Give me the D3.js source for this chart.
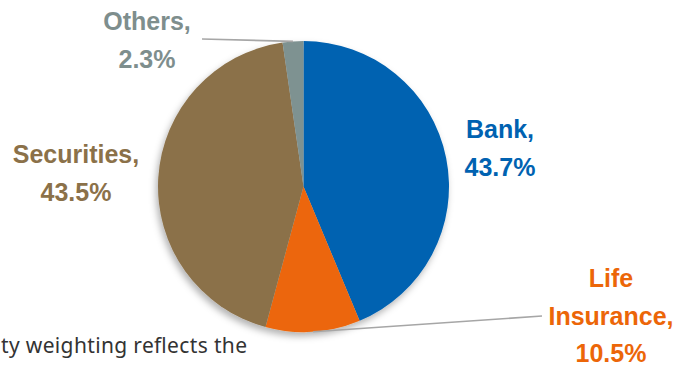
<!DOCTYPE html>
<html>
<head>
<meta charset="utf-8">
<script src="https://cdn.jsdelivr.net/npm/d3@7"></script>
<style>
  body { margin: 0; background: #fff; }
  svg { display: block; }
  .label { font-family: "Liberation Sans", Arial, sans-serif; font-weight: bold; font-size: 25px; }
  .note { font-family: "Noto Sans", sans-serif; font-size: 21px; fill: #333; }
</style>
</head>
<body>
<svg id="chart"></svg>
<script>
// data
const categories = ["Bank", "Life Insurance", "Securities", "Others"];
const shares = [43.7, 10.5, 43.5, 2.3];
const sliceColors = ["#0062b1", "#ec6608", "#8b7149", "#7e9291"];
const labelColors = ["#0062b1", "#ec6608", "#8b7149", "#7e8e8d"];
const labelLines = [["Bank,", "43.7%"], ["Life", "Insurance,", "10.5%"], ["Securities,", "43.5%"], ["Others,", "2.3%"]];

const config = {
    width: 676,
    height: 366,
    cx: 303.5,
    cy: 186.5,
    radius: 145.5,
    lineHeight: 37.5,
    // label anchor (centre x, first baseline y) and leader-line end
    labelPos: [
        { x: 500, y: 138 },
        { x: 611, y: 287, lead: [542, 316] },
        { x: 76, y: 163 },
        { x: 147, y: 30, lead: [202, 39] }
    ]
};

const svg = d3.select('#chart')
    .attr('width', config.width)
    .attr('height', config.height);

const defs = svg.append('defs');
const shadow = defs.append('filter')
    .attr('id', 'shadow')
    .attr('x', '-20%').attr('y', '-20%')
    .attr('width', '140%').attr('height', '140%');
shadow.append('feDropShadow')
    .attr('dx', -2).attr('dy', 4)
    .attr('stdDeviation', 3.5)
    .attr('flood-color', '#000')
    .attr('flood-opacity', 0.3);

const pie = d3.pie().sort(null).value(d => d);
const arcs = pie(shares);
const arc = d3.arc().innerRadius(0).outerRadius(config.radius);

const chart = svg.append('g')
    .attr('transform', `translate(${config.cx},${config.cy})`);

// note text partly cut at left edge
svg.append('text')
    .attr('class', 'note')
    .attr('x', 1)
    .attr('y', 353)
    .attr('textLength', 246)
    .text('ty weighting reflects the');

const pieG = chart.append('g').attr('filter', 'url(#shadow)');
pieG.selectAll('path')
    .data(arcs)
    .join('path')
    .attr('d', arc)
    .attr('fill', (d, i) => sliceColors[i]);

// leader lines from slice mid-angle on the rim
arcs.forEach((d, i) => {
    const p = config.labelPos[i];
    if (!p.lead) return;
    const a = (d.startAngle + d.endAngle) / 2;
    const x0 = Math.sin(a) * config.radius;
    const y0 = -Math.cos(a) * config.radius;
    chart.append('line')
        .attr('x1', p.lead[0] - config.cx)
        .attr('y1', p.lead[1] - config.cy)
        .attr('x2', x0)
        .attr('y2', y0)
        .attr('stroke', '#a6a6a6')
        .attr('stroke-width', 1.6);
});

// labels
categories.forEach((c, i) => {
    const p = config.labelPos[i];
    const t = svg.append('text')
        .attr('class', 'label')
        .attr('fill', labelColors[i])
        .attr('text-anchor', 'middle');
    labelLines[i].forEach((s, j) => {
        t.append('tspan')
            .attr('x', p.x)
            .attr('y', p.y + j * config.lineHeight)
            .text(s);
    });
});
</script>
</body>
</html>
